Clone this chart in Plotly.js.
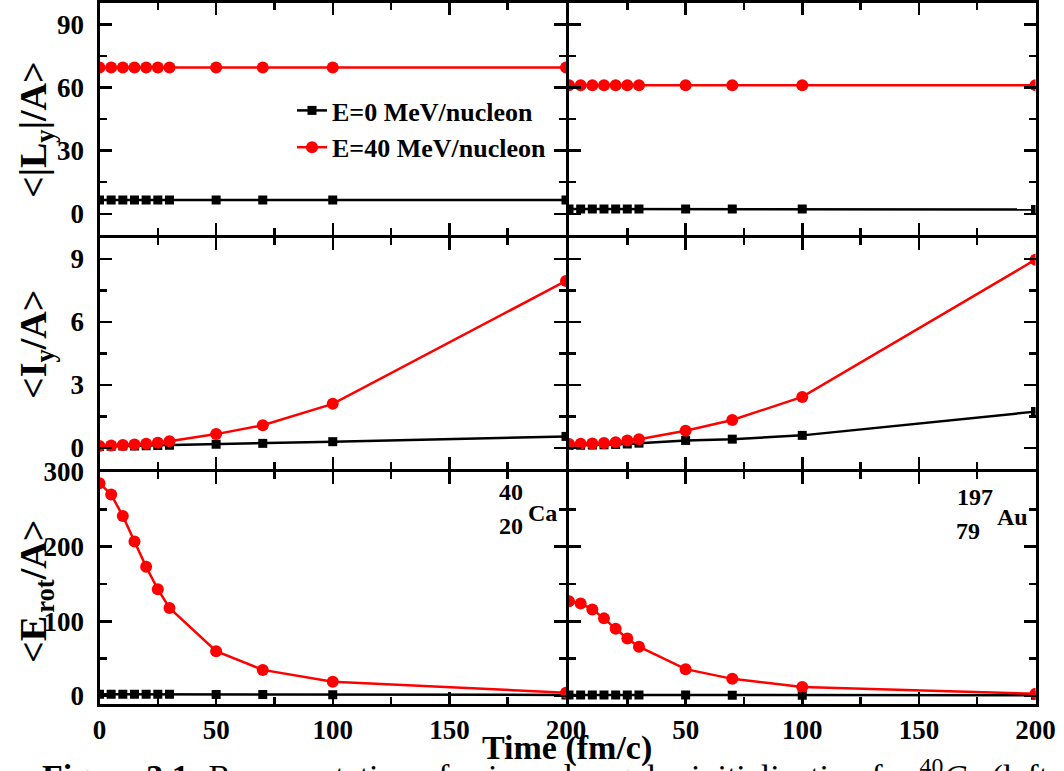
<!DOCTYPE html>
<html>
<head>
<meta charset="utf-8">
<script src="https://cdn.plot.ly/plotly-3.0.1.min.js"></script>
<style>html,body{margin:0;padding:0;background:#fff;}#chart{width:1064px;height:771px;}</style>
</head>
<body>
<div id="chart"></div>
<script>
// ---- data ----
const time = [0, 5, 10, 15, 20, 25, 30, 50, 70, 100, 200];
const seriesNames = ['E=0 MeV/nucleon', 'E=40 MeV/nucleon'];

// <|Ly|/A>
const caLyE0  = [6.5, 6.5, 6.5, 6.5, 6.5, 6.5, 6.5, 6.5, 6.5, 6.5, 6.5];
const caLyE40 = [69.5, 69.5, 69.5, 69.5, 69.5, 69.5, 69.5, 69.5, 69.5, 69.5, 69.5];
const auLyE0  = [2.3, 2.3, 2.3, 2.3, 2.3, 2.3, 2.3, 2.2, 2.2, 2.2, 2.0];
const auLyE40 = [61, 61, 61, 61, 61, 61, 61, 61, 61, 61, 61];

// <Iy/A>
const caIyE0  = [0.07, 0.08, 0.09, 0.10, 0.11, 0.12, 0.13, 0.18, 0.22, 0.30, 0.55];
const caIyE40 = [0.10, 0.12, 0.14, 0.17, 0.20, 0.25, 0.32, 0.66, 1.08, 2.10, 7.95];
const auIyE0  = [0.12, 0.13, 0.14, 0.15, 0.17, 0.19, 0.23, 0.36, 0.42, 0.60, 1.73];
const auIyE40 = [0.19, 0.20, 0.21, 0.24, 0.27, 0.36, 0.42, 0.82, 1.33, 2.43, 8.96];

// <Erot/A>
const caErE0  = [2.5, 2.5, 2.5, 2.5, 2.5, 2.5, 2.5, 2.2, 2.0, 1.8, 1.5];
const caErE40 = [285, 270, 241, 207, 173, 143, 118, 60, 35, 19, 4.5];
const auErE0  = [1.5, 1.5, 1.5, 1.5, 1.5, 1.5, 1.5, 1.3, 1.2, 1.1, 1.0];
const auErE40 = [127, 124, 116, 104, 90, 77, 66, 36, 23, 12, 3];

// ticks
const xTickVals = [0, 50, 100, 150, 200];
const xTickTextLeft = ['0', '50', '100', '150', '200'];
const xTickTextRight = ['', '50', '100', '150', '200'];
const lyTicks = [0, 30, 60, 90];
const iyTicks = [0, 3, 6, 9];
const erTicks = [0, 100, 200, 300];

// ---- layout helpers ----
const W = 1064, H = 771;
const serif = 'Liberation Serif, Times New Roman, serif';
const px = v => v / W;
const py = v => 1 - v / H;
const LW = 3;

// domains chosen so that neighbouring axis lines coincide
const colX = [[px(99.5), px(566)], [px(569), px(1035.5)]];
const rowY = [[py(234.8), py(3.2)], [py(469), py(237.8)], [py(703.5), py(472)]];

const panels = [
  {row: 0, col: 0, e0: caLyE0, e40: caLyE40},
  {row: 0, col: 1, e0: auLyE0, e40: auLyE40},
  {row: 1, col: 0, e0: caIyE0, e40: caIyE40},
  {row: 1, col: 1, e0: auIyE0, e40: auIyE40},
  {row: 2, col: 0, e0: caErE0, e40: caErE40},
  {row: 2, col: 1, e0: auErE0, e40: auErE40}
];
const yRanges = [[-10, 100], [-1, 10], [-10, 300]];
const yTickSets = [lyTicks, iyTicks, erTicks];
const yMinor = [15, 1.5, 50];

const traces = [];
const layout = {
  width: W, height: H,
  margin: {l: 0, r: 0, t: 0, b: 0, pad: 0, autoexpand: false},
  paper_bgcolor: '#fff', plot_bgcolor: '#fff',
  showlegend: true,
  legend: {
    x: px(292), y: py(87), xanchor: 'left', yanchor: 'top',
    bgcolor: 'rgba(0,0,0,0)', borderwidth: 0,
    font: {family: serif, size: 26, weight: 'bold', color: '#000'},
    tracegroupgap: 0
  },
  annotations: [],
  font: {family: serif, color: '#000'}
};

panels.forEach((p, i) => {
  const n = i + 1;
  const xa = n === 1 ? 'x' : 'x' + n;
  const ya = n === 1 ? 'y' : 'y' + n;
  const xk = n === 1 ? 'xaxis' : 'xaxis' + n;
  const yk = n === 1 ? 'yaxis' : 'yaxis' + n;
  traces.push({
    x: time, y: p.e0, xaxis: xa, yaxis: ya, type: 'scatter', mode: 'lines+markers',
    name: seriesNames[0], legendgroup: 'e0', showlegend: i === 0,
    line: {color: '#000', width: 2.5},
    marker: {symbol: 'square', size: 9, color: '#000'}
  });
  traces.push({
    x: time, y: p.e40, xaxis: xa, yaxis: ya, type: 'scatter', mode: 'lines+markers',
    name: seriesNames[1], legendgroup: 'e40', showlegend: i === 0,
    line: {color: '#ff0000', width: 2.5},
    marker: {symbol: 'circle', size: 12, color: '#ff0000'}
  });
  const bottom = p.row === 2;
  layout[xk] = {
    domain: colX[p.col], range: [0, 200], anchor: ya,
    showline: true, linewidth: LW, linecolor: '#000', mirror: 'ticks',
    ticks: 'inside', ticklen: 12, tickwidth: 2.5, tickcolor: '#000',
    tickmode: 'array', tickvals: xTickVals,
    ticktext: p.col === 0 ? xTickTextLeft : xTickTextRight,
    showticklabels: bottom,
    tickfont: {family: serif, size: 27, weight: 'bold', color: '#000'},
    minor: {dtick: 25, ticklen: 7, tickwidth: 2.5, tickcolor: '#000', ticks: 'inside', showgrid: false},
    showgrid: false, zeroline: false, fixedrange: true
  };
  layout[yk] = {
    domain: rowY[p.row], range: yRanges[p.row], anchor: xa,
    showline: true, linewidth: LW, linecolor: '#000', mirror: 'ticks',
    ticks: 'inside', ticklen: 12, tickwidth: 2.5, tickcolor: '#000',
    tickmode: 'array', tickvals: yTickSets[p.row],
    showticklabels: p.col === 0,
    ticklabelstandoff: 7,
    tickfont: {family: serif, size: 27, weight: 'bold', color: '#000'},
    minor: {dtick: yMinor[p.row], tick0: 0, ticklen: 7, tickwidth: 2.5, tickcolor: '#000', ticks: 'inside', showgrid: false},
    showgrid: false, zeroline: false, fixedrange: true
  };
});

function ann(text, x, y, size, opts) {
  layout.annotations.push(Object.assign({
    text: text, xref: 'paper', yref: 'paper', x: px(x), y: py(y),
    showarrow: false, xanchor: 'center', yanchor: 'middle',
    font: {family: serif, size: size, weight: 'bold', color: '#000'}
  }, opts || {}));
}

// y-axis titles
ann('&lt;|L<sub>y</sub>|/A&gt;', 36, 130, 38, {textangle: -90});
ann('&lt;I<sub>y</sub>/A&gt;', 36, 345, 38, {textangle: -90});
ann('&lt;E&#8202;<sub>rot</sub>/A&gt;', 36, 592, 38, {textangle: -90});
// x-axis title
ann('Time (fm/c)', 567, 748, 34);
// nuclei labels
ann('40', 511, 492, 24);
ann('20', 511, 526, 24);
ann('Ca', 542, 513, 24);
ann('197', 975, 497, 24);
ann('79', 968, 531, 24);
ann('Au', 1012, 517, 24);
// caption (cut off at the bottom edge)
ann('<b>Figure 3.1:</b> Representation of spin and angular initialization for <sup>40</sup><i>Ca</i> (left', 40, 751, 34,
    {xanchor: 'left', yanchor: 'top', font: {family: serif, size: 34, weight: 'normal', color: '#000'}});

Plotly.newPlot('chart', traces, layout, {displayModeBar: false, staticPlot: true});
</script>
</body>
</html>
